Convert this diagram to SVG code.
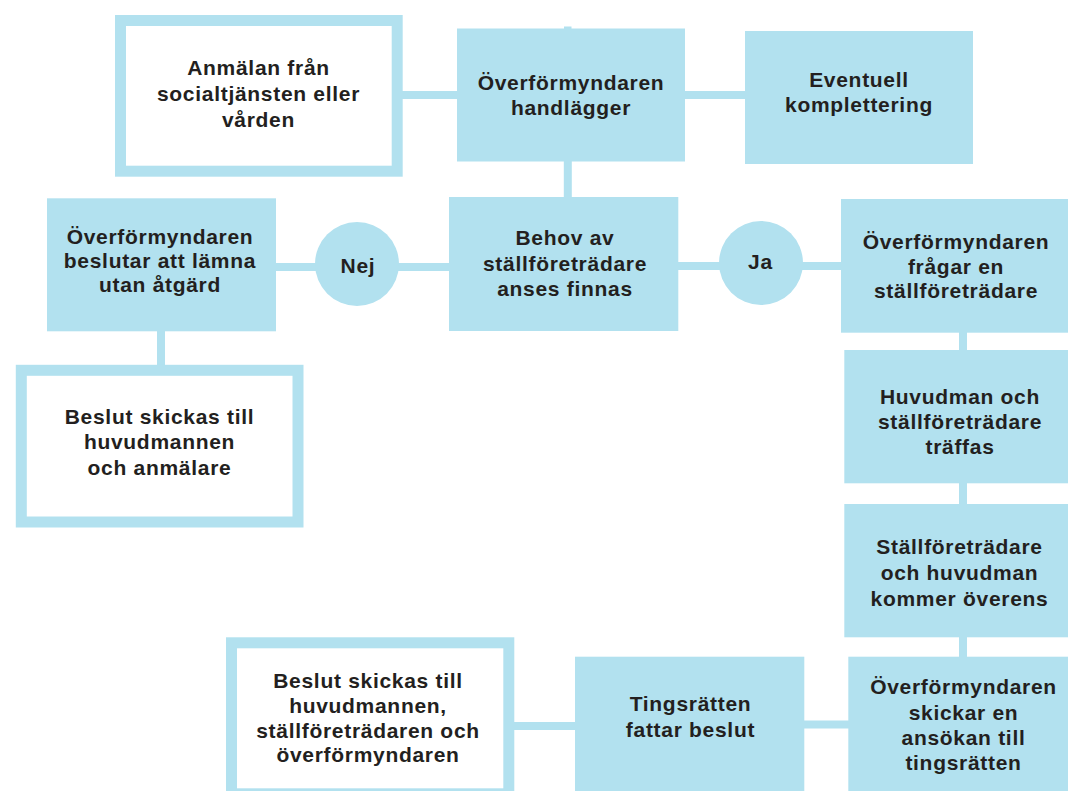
<svg xmlns="http://www.w3.org/2000/svg" width="1068" height="791" viewBox="0 0 1068 791">
<defs>
<style>
.fill{fill:#b2e1ef;}
.frame{fill:#ffffff;stroke:#b2e1ef;stroke-width:11;}
.con{stroke:#b2e1ef;stroke-width:8;fill:none;}
.t{font-family:"Liberation Sans",Arial,sans-serif;font-weight:bold;font-size:21px;letter-spacing:0.7px;fill:#231f20;text-anchor:middle;}
</style>
</defs>
<rect width="1068" height="791" fill="#ffffff"/>
<g id="connectors">
<line class="con" x1="402" y1="95" x2="457" y2="95"/>
<line class="con" x1="684" y1="95" x2="746" y2="95"/>
<line class="con" x1="567.8" y1="160" x2="567.8" y2="198"/>
<rect class="fill" x="564" y="26.5" width="7.5" height="3"/>
<line class="con" x1="275" y1="267" x2="450" y2="267"/>
<line class="con" x1="677" y1="266" x2="842" y2="266"/>
<line class="con" x1="161" y1="330" x2="161" y2="366"/>
<line class="con" x1="963" y1="331" x2="963" y2="351"/>
<line class="con" x1="963" y1="482" x2="963" y2="505"/>
<line class="con" x1="963" y1="636" x2="963" y2="658"/>
<line class="con" x1="513" y1="726" x2="576" y2="726"/>
<line class="con" x1="803" y1="724.5" x2="849" y2="724.5"/>
</g>
<g id="n-anmalan">
<rect class="frame" x="120.5" y="20.5" width="276.7" height="150.7"/>
<text class="t" x="258.5" y="75">Anmälan från</text>
<text class="t" x="258.5" y="101">socialtjänsten eller</text>
<text class="t" x="258.5" y="127">vården</text>
</g>
<g id="n-handlagger">
<rect class="fill" x="457" y="28.5" width="228" height="133"/>
<text class="t" x="571" y="89.5">Överförmyndaren</text>
<text class="t" x="571" y="114.5">handlägger</text>
</g>
<g id="n-komplettering">
<rect class="fill" x="745" y="31" width="228" height="133"/>
<text class="t" x="859" y="86.5">Eventuell</text>
<text class="t" x="859" y="111.5">komplettering</text>
</g>
<g id="n-utan-atgard">
<rect class="fill" x="47" y="198.3" width="229" height="133"/>
<text class="t" x="160" y="243.5">Överförmyndaren</text>
<text class="t" x="160" y="267.5">beslutar att lämna</text>
<text class="t" x="160" y="291.5">utan åtgärd</text>
</g>
<g id="n-nej">
<circle class="fill" cx="357" cy="264" r="42"/>
<text class="t" x="358" y="273">Nej</text>
</g>
<g id="n-behov">
<rect class="fill" x="449" y="197" width="229.3" height="134"/>
<text class="t" x="565" y="245">Behov av</text>
<text class="t" x="565" y="270.5">ställföreträdare</text>
<text class="t" x="565" y="295.5">anses finnas</text>
</g>
<g id="n-ja">
<circle class="fill" cx="761" cy="263" r="42"/>
<text class="t" x="760.5" y="268.5">Ja</text>
</g>
<g id="n-fragar">
<rect class="fill" x="841" y="199" width="234" height="133.7"/>
<text class="t" x="956" y="249">Överförmyndaren</text>
<text class="t" x="956" y="273.5">frågar en</text>
<text class="t" x="956" y="298">ställföreträdare</text>
</g>
<g id="n-beslut-anmalare">
<rect class="frame" x="21.3" y="370.3" width="276.7" height="151.7"/>
<text class="t" x="159.5" y="424">Beslut skickas till</text>
<text class="t" x="159.5" y="449">huvudmannen</text>
<text class="t" x="159.5" y="475">och anmälare</text>
</g>
<g id="n-traffas">
<rect class="fill" x="844.3" y="350" width="234" height="133.3"/>
<text class="t" x="960" y="403.5">Huvudman och</text>
<text class="t" x="960" y="428.5">ställföreträdare</text>
<text class="t" x="960" y="453.5">träffas</text>
</g>
<g id="n-overens">
<rect class="fill" x="844.3" y="504" width="234" height="133.3"/>
<text class="t" x="959.5" y="554">Ställföreträdare</text>
<text class="t" x="959.5" y="580">och huvudman</text>
<text class="t" x="959.5" y="605.5">kommer överens</text>
</g>
<g id="n-ansokan">
<rect class="fill" x="848.3" y="656.7" width="234" height="145"/>
<text class="t" x="963.5" y="694">Överförmyndaren</text>
<text class="t" x="963.5" y="719.5">skickar en</text>
<text class="t" x="963.5" y="745">ansökan till</text>
<text class="t" x="963.5" y="770">tingsrätten</text>
</g>
<g id="n-tingsratten">
<rect class="fill" x="575" y="656.7" width="229.3" height="145"/>
<text class="t" x="690.5" y="711">Tingsrätten</text>
<text class="t" x="690.5" y="736.7">fattar beslut</text>
</g>
<g id="n-beslut-alla">
<rect class="frame" x="231.5" y="642.8" width="277.3" height="151"/>
<text class="t" x="368" y="687.5">Beslut skickas till</text>
<text class="t" x="368" y="712.5">huvudmannen,</text>
<text class="t" x="368" y="737.5">ställföreträdaren och</text>
<text class="t" x="368" y="762">överförmyndaren</text>
</g>
</svg>
